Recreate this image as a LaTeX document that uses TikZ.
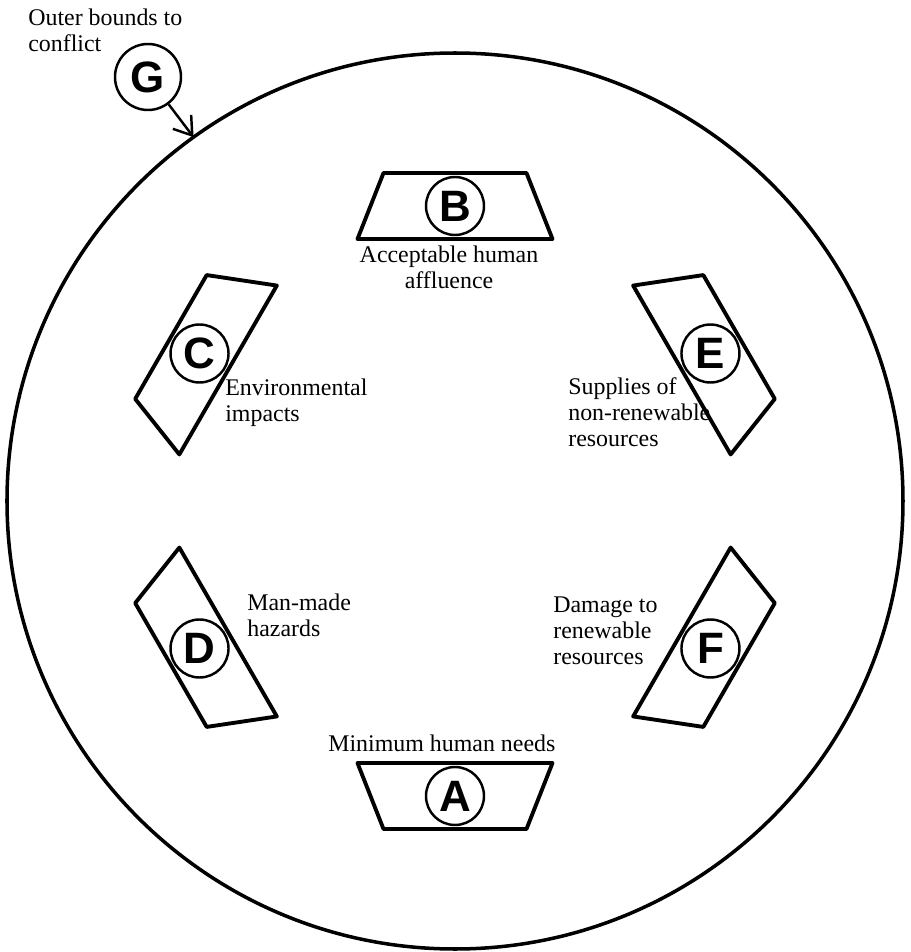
\documentclass[tikz,border=0pt]{standalone}
\usepackage{fontspec}
\setmainfont{Liberation Serif}
\newfontfamily\letterfont{Liberation Sans}
\usetikzlibrary{arrows.meta}

\begin{document}
\begin{tikzpicture}[>={Straight Barb[length=3.4mm,width=4.6mm,line width=1.4pt]},
    every node/.style={inner sep=0pt},
    caption/.style={font=\fontsize{13.6}{14.8}\selectfont,align=left,anchor=north west},
    letter/.style={circle,draw,line width=1.4pt,minimum size=1.16cm,
                   font=\letterfont\bfseries\fontsize{25}{25}\selectfont},
    panel/.style={line width=2.2pt,line join=round}]
  \useasboundingbox (-9.1,-9.02) rectangle (9.1,10.02);
  % outer bound
  \draw[line width=2pt] (0,0) circle (8.96);
  \coordinate (rim) at (125.7:8.96);
  % the six panels round the ring
  \foreach \ang/\lab in {90/B,150/C,210/D,270/A,330/F,30/E}{
    \draw[panel,rotate=\ang-90] (-1.95,5.24) -- (1.95,5.24) -- (1.43,6.56) -- (-1.43,6.56) -- cycle;
    \node[letter] (\lab) at (\ang:5.9) {\lab};
  }
  \node[letter,minimum size=1.32cm] (G) at (-6.14,8.48) {G};
  \draw[->,line width=1.4pt] (G) -- (rim);
  % captions
  \node[caption] (gtext) at (-8.54,9.85) {Outer bounds to\\conflict};
  \node[caption,align=center,anchor=north] (btext) at (-0.12,5.1) {Acceptable human\\affluence};
  \node[caption] (ctext) at (-4.6,2.44) {Environmental\\impacts};
  \node[caption] (etext) at (2.26,2.48) {Supplies of\\non-renewable\\resources};
  \node[caption] (dtext) at (-4.16,-1.86) {Man-made\\hazards};
  \node[caption] (ftext) at (1.96,-1.9) {Damage to\\renewable\\resources};
  \node[caption] (atext) at (-2.54,-4.68) {Minimum human needs};
\end{tikzpicture}
\end{document}
